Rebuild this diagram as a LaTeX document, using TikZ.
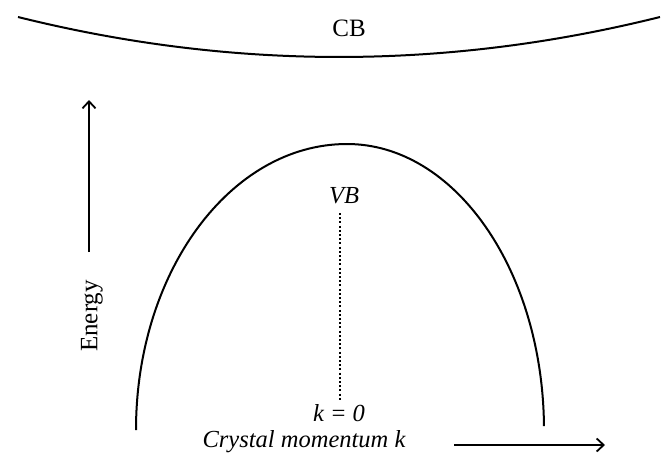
\documentclass[tikz,border=0pt]{standalone}
\usepackage{fontspec}
\setmainfont{Liberation Serif}
\usetikzlibrary{arrows.meta}
\begin{document}
\begin{tikzpicture}[x=1pt,y=-1pt,
  curve/.style={line width=2pt},
  axisarrow/.style={line width=1.8pt,-{Straight Barb[length=7pt,width=13pt,line width=1.8pt]}},
  dotline/.style={line width=2pt,dash pattern=on 2pt off 2.2pt},
  lbl/.style={inner sep=0pt,font=\fontsize{25}{25}\selectfont},
  ilbl/.style={inner sep=0pt,font=\fontsize{24.5}{25}\selectfont\itshape}]
\useasboundingbox (0,0) rectangle (670,466);
% conduction band
\draw[curve] (18,17) .. controls (232,70.3) and (446,70.3) .. (660,17);
\node[lbl] (cb) at (349,28) {CB};
% energy axis
\coordinate (eb) at (89,252);
\coordinate (et) at (89,100);
\draw[axisarrow] (eb) -- (et);
\node[lbl,rotate=90] (energy) at (92,316) {Energy};
% valence band
\draw[curve] (136,430) arc[start angle=180,end angle=270,x radius=211,y radius=286]
  arc[start angle=270,end angle=359.2,x radius=197,y radius=286];
\node[ilbl] (vb) at (344,196) {VB};
\coordinate (dt) at (340,213);
\coordinate (db) at (340,400);
\draw[dotline] (dt) -- (db);
\node[ilbl] (k0) at (339,413) {k = 0};
\node[ilbl] (cm) at (304,442) {Crystal momentum k};
% momentum axis
\coordinate (ml) at (454,445);
\coordinate (mr) at (605,445);
\draw[axisarrow] (ml) -- (mr);
\end{tikzpicture}
\end{document}
